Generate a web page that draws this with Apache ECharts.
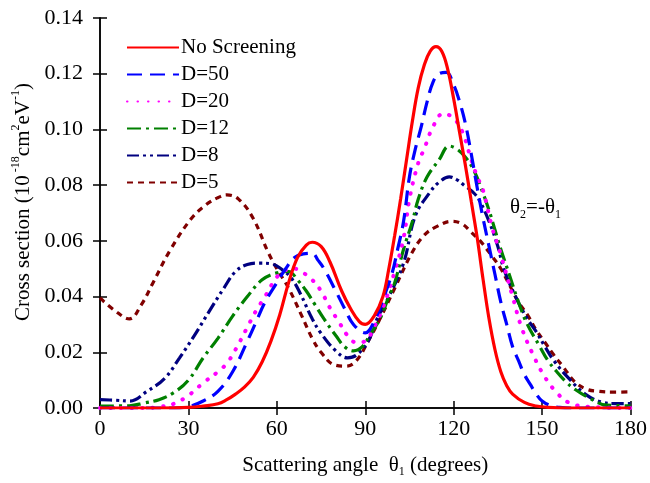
<!DOCTYPE html>
<html>
<head>
<meta charset="utf-8">
<script src="https://cdn.jsdelivr.net/npm/echarts@6/dist/echarts.min.js"></script>
<style>html,body{margin:0;padding:0;background:#fff}#c{width:650px;height:483px}</style>
</head>
<body>
<div id="c"></div>
<script>
const seriesNames = ['No Screening', 'D=50', 'D=20', 'D=12', 'D=8', 'D=5'];
const xTicks = [0, 30, 60, 90, 120, 150, 180];
const yTicks = [0, 0.02, 0.04, 0.06, 0.08, 0.10, 0.12, 0.14];

const xNoScreen = [0,20,30,35,40,43,46,49,52,55,58,61,64,67,70,72,75,78,82,85,88,90,93,96,98,100,102,104,106,108,110,112,114,116,118,120,122,124,126,128,130,132,134,136,138,140,144,148,152,160,180];
const yNoScreen = [0,0,0.0002,0.0007,0.0015,0.003,0.005,0.0075,0.011,0.0165,0.024,0.0335,0.045,0.054,0.0585,0.0595,0.058,0.0525,0.042,0.0357,0.031,0.030,0.033,0.040,0.050,0.062,0.075,0.089,0.103,0.115,0.123,0.128,0.1297,0.128,0.1215,0.111,0.099,0.087,0.074,0.061,0.046,0.032,0.021,0.013,0.008,0.005,0.002,0.0007,0.0002,0,0];

const xD50 = [0,25,30,35,40,45,50,53,56,60,63,66,69,72,74,76,80,83,86,90,93,96,99,101,103,105,107,109,111,113,115,117.5,120,122,124,126,128,130,132,134,136,138,140,142,144,146,148,150,153,156,160,180];
const yD50 = [0,0,0.0005,0.0025,0.006,0.013,0.024,0.031,0.038,0.045,0.050,0.054,0.0553,0.0555,0.053,0.050,0.042,0.0357,0.030,0.027,0.031,0.039,0.048,0.057,0.067,0.083,0.093,0.101,0.110,0.117,0.120,0.1205,0.116,0.110,0.102,0.091,0.079,0.068,0.058,0.048,0.038,0.030,0.022,0.017,0.012,0.0085,0.005,0.0025,0.0008,0.0002,0,0];

const xD20 = [0,15,20,25,30,35,40,43,46,50,53,56,60,63,66,69,72,75,78,81,84,87,90,93,96,100,103,105,108,110,113,116.5,120,123,126,128,130,133,136,140,143,147,151,155,159,165,180];
const yD20 = [0,0,0.0004,0.0015,0.0045,0.009,0.013,0.016,0.021,0.029,0.035,0.040,0.047,0.0495,0.050,0.0485,0.046,0.042,0.036,0.031,0.026,0.0235,0.024,0.029,0.036,0.049,0.061,0.075,0.088,0.093,0.101,0.1057,0.104,0.099,0.089,0.083,0.078,0.065,0.055,0.040,0.029,0.019,0.011,0.0055,0.002,0.0005,0];

const xD12 = [0,10,15,20,25,30,35,40,45,50,55,60,64,67,70,73,76,80,83,86,89,92,95,98,100,103,106,108,111,115,118.5,121,124,127,130,132,134,136,139,142,145,149,152,155,158,161,166,172,180];
const yD12 = [0.0007,0.0008,0.0018,0.003,0.0055,0.010,0.018,0.025,0.033,0.040,0.046,0.0485,0.049,0.046,0.042,0.037,0.032,0.026,0.022,0.0205,0.022,0.027,0.032,0.040,0.045,0.057,0.067,0.075,0.083,0.089,0.094,0.093,0.090,0.085,0.077,0.071,0.064,0.057,0.0475,0.038,0.030,0.0225,0.017,0.013,0.0095,0.0068,0.0036,0.001,0.0008];

const xD8 = [0,5,10,16,22,27,32,37,42,46,50,54,58,62,65,68,72,75,80,84,87,91,94,98,103,107,112,115,118.5,121,123.5,127,129,132,135,137,141,145,148,151,154,159,165,170,175,180];
const yD8 = [0.003,0.0028,0.0025,0.006,0.0107,0.018,0.026,0.0346,0.043,0.049,0.0515,0.052,0.0518,0.0495,0.0465,0.041,0.032,0.0268,0.0205,0.018,0.019,0.024,0.032,0.040,0.052,0.069,0.0775,0.081,0.083,0.082,0.080,0.077,0.074,0.067,0.058,0.050,0.040,0.032,0.0274,0.022,0.017,0.0107,0.0047,0.0022,0.0016,0.0016];

const xD5 = [0,5,10,14,18,24,31,36,40,43,47,52,57,60,64,68.5,72,75,79.5,83.5,87,91,95,100,106,110,114,119.5,123,126,129,133,136,139,142,145,148,151,154,157,161,165,169,174,180];
const yD5 = [0.0395,0.035,0.032,0.037,0.045,0.057,0.068,0.073,0.0755,0.0765,0.075,0.068,0.056,0.050,0.043,0.033,0.025,0.020,0.0155,0.015,0.017,0.024,0.032,0.043,0.056,0.062,0.065,0.067,0.066,0.063,0.060,0.0545,0.050,0.044,0.038,0.0335,0.028,0.0235,0.019,0.015,0.0095,0.0068,0.006,0.0057,0.0058];

const xs = [xNoScreen, xD50, xD20, xD12, xD8, xD5];
const ys = [yNoScreen, yD50, yD20, yD12, yD8, yD5];
const colors = ['#ff0000', '#0000ff', '#ff00ff', '#008000', '#000080', '#800000'];
const dashes = ['solid', [15, 8], [0.5, 10], [14, 5, 3, 5], [12, 4, 3, 4, 3, 4], [6, 5]];
const widths = [3.2, 3.2, 4, 3.2, 3.2, 3.2];

const FONT = '"Liberation Serif", "Times New Roman", serif';

const chart = echarts.init(document.getElementById('c'), null, {renderer: 'canvas'});

const series = seriesNames.map((n, i) => ({
  name: n,
  type: 'line',
  smooth: 0.4,
  symbol: 'none',
  data: xs[i].map((x, j) => [x, ys[i][j]]),
  lineStyle: {color: colors[i], width: widths[i], type: dashes[i], cap: i === 2 ? 'round' : 'butt'},
  itemStyle: {color: colors[i]},
  z: 10 - i
}));

const axisCommon = {
  axisLine: {show: true, lineStyle: {color: '#000', width: 1.5}},
  axisTick: {show: true, inside: true, length: 7, lineStyle: {color: '#000', width: 1.5}},
  splitLine: {show: false}
};

chart.setOption({
  animation: false,
  backgroundColor: '#fff',
  grid: {left: 100, right: 15, top: 18, bottom: 73},
  legend: {
    orient: 'vertical', left: 121, top: 32,
    itemWidth: 52, itemHeight: 14, itemGap: 6,
    itemStyle: {opacity: 0, borderWidth: 0},
    textStyle: {fontFamily: FONT, fontSize: 21, lineHeight: 21, color: '#000', padding: [0, 0, 0, -3]},
    data: seriesNames
  },
  xAxis: [
    Object.assign({
      type: 'value', min: 0, max: 180, interval: 30, position: 'bottom',
      axisLabel: {fontFamily: FONT, fontSize: 22, color: '#000', margin: 10},
      name: 'Scattering angle  θ{sub|1} (degrees)',
      nameLocation: 'middle', nameGap: 44,
      nameTextStyle: {fontFamily: FONT, fontSize: 21, color: '#000',
        rich: {sub: {fontFamily: FONT, fontSize: 12, verticalAlign: 'bottom', padding: [14, 0, 0, 0]}}}
    }, axisCommon),
    Object.assign({
      type: 'value', min: 0, max: 180, interval: 30, position: 'top',
      axisLabel: {show: false}
    }, axisCommon)
  ],
  yAxis: [
    Object.assign({
      type: 'value', min: 0, max: 0.14, interval: 0.02, position: 'left',
      axisLabel: {fontFamily: FONT, fontSize: 22, color: '#000', margin: 17,
        formatter: v => v.toFixed(2)},
      name: 'Cross section (10{sup| -18}cm{sup|2}eV{sup|-1})',
      nameLocation: 'middle', nameGap: 62,
      nameTextStyle: {fontFamily: FONT, fontSize: 21, color: '#000', padding: [0, 0, 0, 22],
        rich: {sup: {fontFamily: FONT, fontSize: 12, verticalAlign: 'top', padding: [0, 0, 14, 0]}}}
    }, axisCommon),
    Object.assign({
      type: 'value', min: 0, max: 0.14, interval: 0.02, position: 'right',
      axisLabel: {show: false}
    }, axisCommon)
  ],
  graphic: [{
    type: 'text', left: 510, top: 197,
    style: {
      text: 'θ{sub|2}=-θ{sub|1}',
      font: '21px ' + FONT, fill: '#000',
      rich: {sub: {fontFamily: FONT, fontSize: 12, padding: [14, 0, 0, 0]}}
    }
  }],
  series: series
});
</script>
</body>
</html>
